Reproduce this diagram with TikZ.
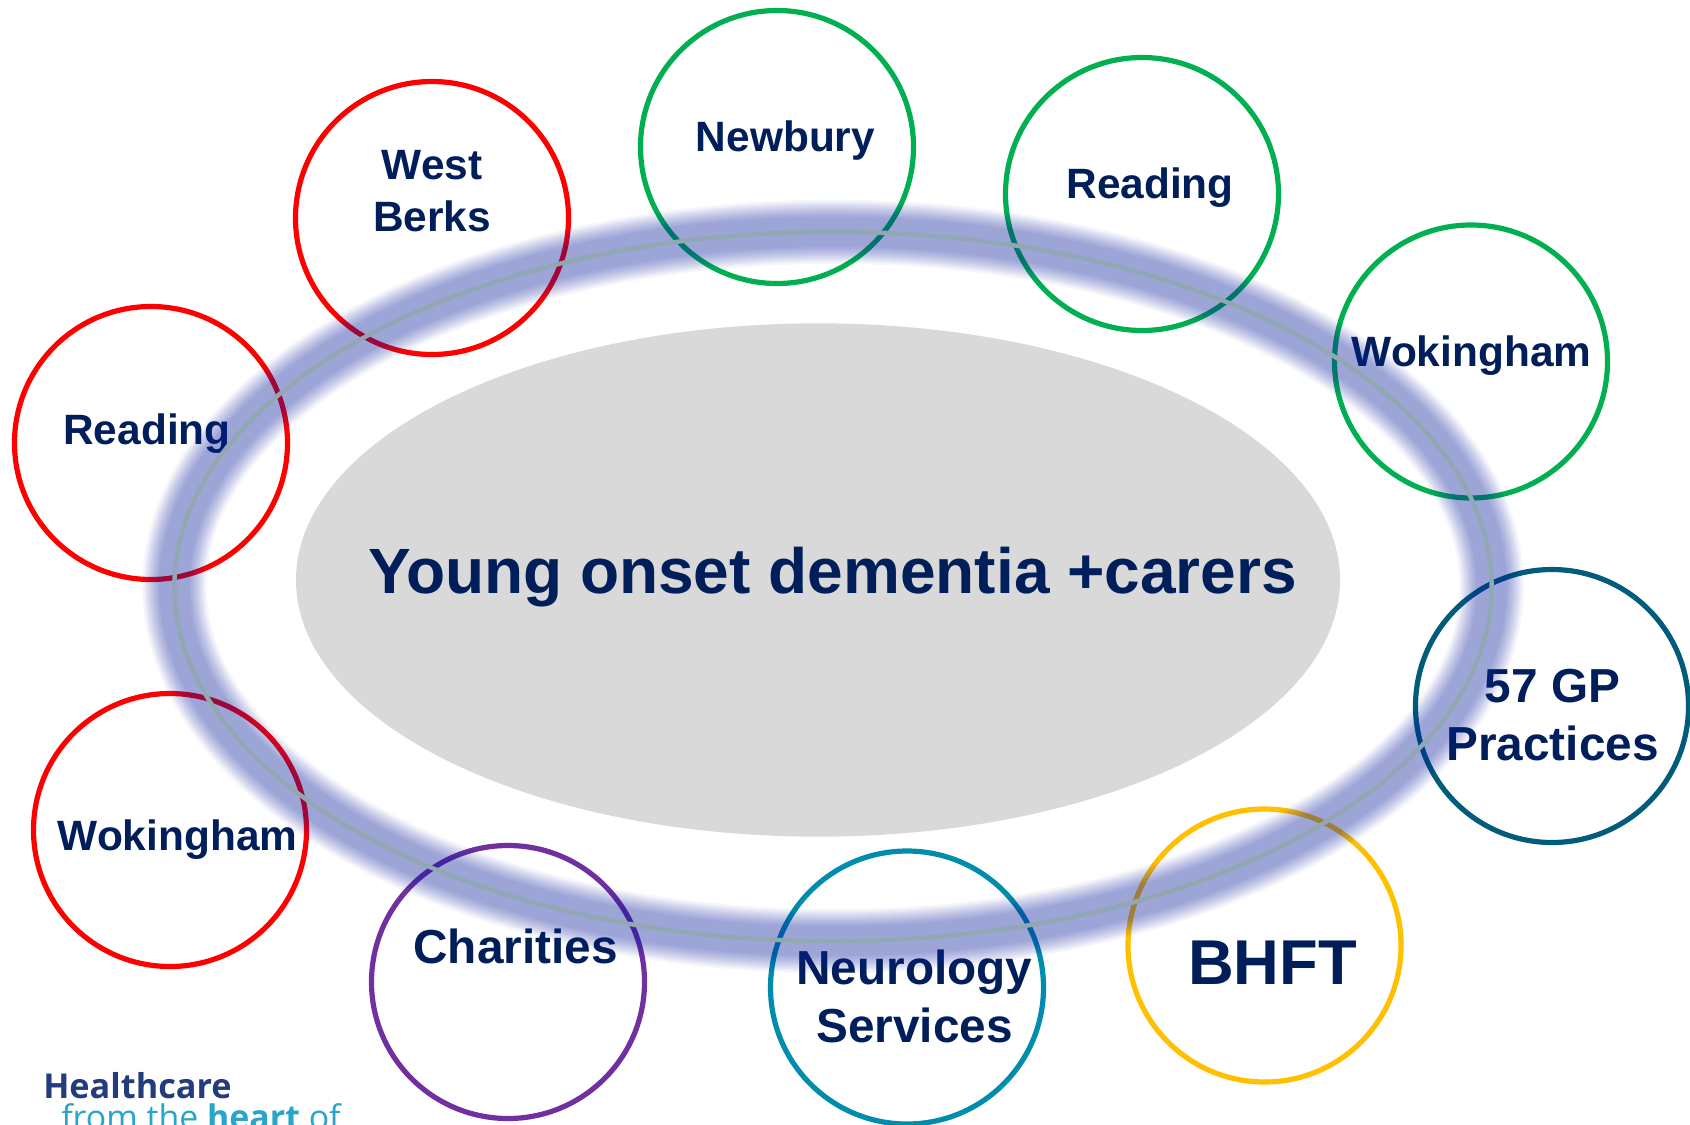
\documentclass[tikz,border=0pt]{standalone}
\usepackage{fontspec}
\setmainfont{Liberation Sans}
\newfontfamily\logofont{Open Sans}
\usetikzlibrary{shapes.geometric}
\definecolor{txtnavy}{RGB}{0,30,90}
\definecolor{cgreen}{RGB}{0,176,80}
\definecolor{cred}{RGB}{255,0,0}
\definecolor{cpurple}{RGB}{112,48,160}
\definecolor{cteal}{RGB}{0,140,173}
\definecolor{cdteal}{RGB}{0,92,122}
\definecolor{cyellow}{RGB}{255,192,0}
\definecolor{cgrey}{RGB}{217,217,217}
\definecolor{glowblue}{RGB}{10,32,165}
\definecolor{ringline}{RGB}{145,168,178}
\definecolor{logonavy}{RGB}{35,60,125}
\definecolor{logoteal}{RGB}{40,165,200}
\tikzset{
  bubble/.style={circle,draw=#1,line width=3.9pt,minimum size=204.75pt,inner sep=0pt,fill=none},
  lab/.style={text=txtnavy,inner sep=0pt,anchor=base,align=center},
  labS/.style={lab,font=\fontsize{31.8pt}{38.5pt}\selectfont\bfseries},
  labM/.style={lab,font=\fontsize{35.8pt}{43.5pt}\selectfont\bfseries},
  ringcurve/.style={ellipse,minimum width=987.9pt,minimum height=532.05pt,inner sep=0pt}
}
\begin{document}
\begin{tikzpicture}[x=0.75pt,y=-0.75pt]
\useasboundingbox (0,0) rectangle (1690,1124);
\fill[white] (0,0) rectangle (1690,1124);
\node[ellipse,fill=cgrey,minimum width=783pt,minimum height=385pt,inner sep=0pt] (core) at (818,580) {};
% circles
\node[bubble=cred] (c1) at (432,218) {};
\node[bubble=cred] (c2) at (151,443) {};
\node[bubble=cred] (c3) at (170,830) {};
\node[bubble=cpurple] (c4) at (508,982) {};
\node[bubble=cteal] (c5) at (907,987.5) {};
\node[bubble=cyellow] (c6) at (1264.5,945.5) {};
\node[bubble=cdteal] (c7) at (1552,706) {};
\node[bubble=cgreen] (c8) at (1471,361.5) {};
\node[bubble=cgreen] (c9) at (1142,194) {};
\node[bubble=cgreen] (c10) at (777,147) {};
% labels
\node[labS] (t1) at (432,231) {West\\Berks};
\node[labS] (t2) at (147,444) {Reading};
\node[labS] (t3) at (177.5,850.5) {Wokingham};
\node[labM] (t4) at (515.5,963) {Charities};
\node[labM] (t5) at (914.5,1042.5) {Neurology\\Services};
\node[lab,font=\fontsize{47.5pt}{50pt}\selectfont\bfseries] (t6) at (1272.5,984) {BHFT};
\node[labM] (t7) at (1552.5,760) {57 GP\\Practices};
\node[labS] (t8) at (1471.5,366) {Wokingham};
\node[labS] (t9) at (1150,198) {Reading};
\node[labS] (t10) at (785.5,151) {Newbury};
\node[lab,font=\fontsize{48pt}{55pt}\selectfont\bfseries] (main) at (832.5,593) {Young onset dementia +carers};
% glow ring over everything
\foreach \w in {64,60,57,54,51,48,45,42,39,36,33,30}{
  \node[ringcurve,draw=glowblue,draw opacity=0.04,line width=\w*0.75pt] at (833,586.5) {};
}
\node[ringcurve,draw=ringline,line width=3.3pt] (ring) at (833,586.5) {};
% logo
\begin{scope}
\clip (0,0) rectangle (1690,1124);
\node[inner sep=0pt,anchor=base west,text=logonavy,font=\logofont\fontsize{25.7pt}{30pt}\selectfont\bfseries] (logo1) at (43,1098) {Healthcare};
\node[inner sep=0pt,anchor=base west,text=logoteal,font=\logofont\fontsize{25.4pt}{30pt}\selectfont] (logo2) at (61,1129) {from the \textbf{heart} of};
\end{scope}
\end{tikzpicture}
\end{document}
